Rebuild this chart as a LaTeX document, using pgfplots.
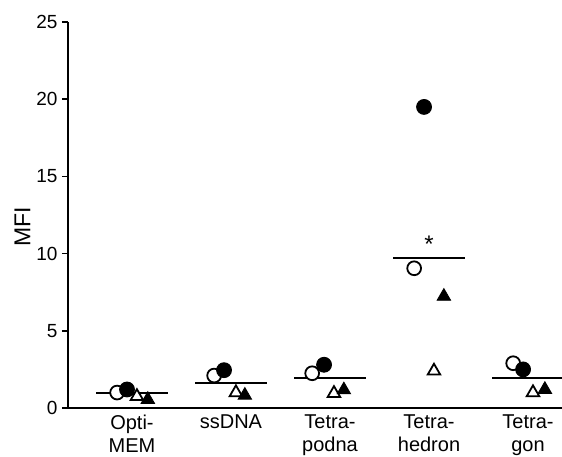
\documentclass[border=0pt]{standalone}
\usepackage{fontspec}
\setmainfont{Liberation Sans}
\usepackage{pgfplots}
\pgfplotsset{compat=1.18}
\begin{document}
\begin{tikzpicture}[x=1pt,y=1pt]
\useasboundingbox (-68,-49) rectangle (494,408);
\begin{axis}[
  at={(0,0)}, anchor=south west,
  scale only axis, width=494pt, height=386pt,
  xmin=-0.646, xmax=4.343, ymin=0, ymax=25,
  axis x line=bottom, axis y line=left,
  axis line style={-, line width=1.7pt},
  xtick={0,1,2,3,4},
  xticklabels={Opti-\\MEM, ssDNA, Tetra-\\podna, Tetra-\\hedron, Tetra-\\gon},
  xticklabel style={align=center, font=\fontsize{20}{23}\selectfont, yshift=3pt},
  x tick style={draw=none},
  ytick={0,5,10,15,20,25},
  yticklabel style={font=\fontsize{19}{19}\selectfont, xshift=-1pt},
  /pgf/number format/assume math mode=true,
  tick align=outside, major tick length=6pt,
  y tick style={line width=1.7pt, black},
  ylabel={MFI},
  ylabel style={font=\fontsize{23}{23}\selectfont, at={(axis description cs:-0.092,0.469)}, anchor=center},
  clip=false,
]
% means
\addplot[black, line width=2pt] coordinates {(-0.36,0.95) (0.36,0.95)};
\addplot[black, line width=2pt] coordinates {(0.64,1.6) (1.36,1.6)};
\addplot[black, line width=2pt] coordinates {(1.64,1.92) (2.36,1.92)};
\addplot[black, line width=2pt] coordinates {(2.64,9.7) (3.36,9.7)};
\addplot[black, line width=2pt] coordinates {(3.64,1.96) (4.34,1.96)};
% open circles
\addplot[only marks, mark=*, mark size=6.9pt, mark options={draw=black, fill=white, line width=1.8pt}]
  coordinates {(-0.15,1.0) (0.83,2.1) (1.82,2.25) (2.85,9.05) (3.85,2.9)};
% filled circles
\addplot[only marks, mark=*, mark size=7.4pt, mark options={draw=black, fill=black, line width=1pt}]
  coordinates {(-0.05,1.2) (0.93,2.45) (1.94,2.8) (2.95,19.5) (3.95,2.5)};
% open triangles
\addplot[only marks, mark=triangle*, mark size=7.2pt, mark options={draw=black, fill=white, line width=1.8pt, line join=miter}]
  coordinates {(0.05,0.75) (1.05,1.0) (2.04,0.95) (3.05,2.4) (4.05,1.0)};
% filled triangles
\addplot[only marks, mark=triangle*, mark size=7.8pt, mark options={draw=black, fill=black, line width=0.8pt}]
  coordinates {(0.16,0.55) (1.14,0.82) (2.14,1.17) (3.15,7.23) (4.17,1.2)};
\node[font=\fontsize{24}{24}\selectfont] at (axis cs:3,10.6) {*};
\end{axis}
\end{tikzpicture}
\end{document}
